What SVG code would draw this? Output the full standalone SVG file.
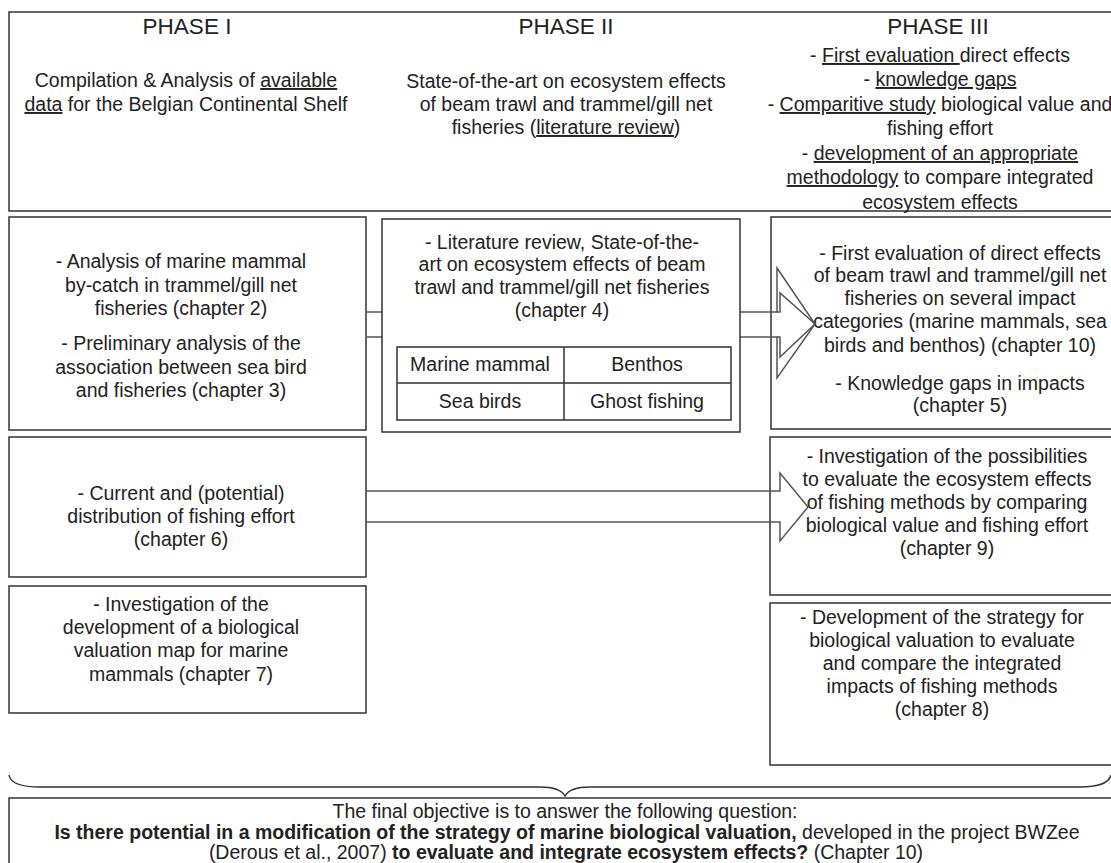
<svg xmlns="http://www.w3.org/2000/svg" width="1111" height="863" viewBox="0 0 1111 863">
<style>
.box{fill:#fff;stroke:#333;stroke-width:1.5}
.line{fill:none;stroke:#333;stroke-width:1.5}
.arrow{fill:none;stroke:#555;stroke-width:1.5;stroke-linejoin:miter}
text{font-family:"Liberation Sans",Arial,sans-serif;font-size:19.5px;fill:#222;text-anchor:middle}
.h{font-size:22.5px}
.u{text-decoration:underline}
.b{font-weight:bold}
</style>
<rect width="1111" height="863" fill="#fff"/>
<g id="phases">
<rect class="box" x="9" y="12" width="1120" height="199"/>
<text class="h" x="187" y="34">PHASE I</text>
<text class="h" x="566" y="34">PHASE II</text>
<text class="h" x="938" y="34">PHASE III</text>
<text x="186" y="87">Compilation &amp; Analysis of <tspan class="u">available</tspan></text>
<text x="186" y="111"><tspan class="u">data</tspan> for the Belgian Continental Shelf</text>
<text x="566" y="88">State-of-the-art on ecosystem effects</text>
<text x="566" y="111">of beam trawl and trammel/gill net</text>
<text x="566" y="134">fisheries (<tspan class="u">literature review</tspan>)</text>
<text x="940" y="62">- <tspan class="u">First evaluation </tspan>direct effects</text>
<text x="940" y="86">- <tspan class="u">knowledge gaps</tspan></text>
<text x="940" y="111">- <tspan class="u">Comparitive study</tspan> biological value and</text>
<text x="940" y="135">fishing effort</text>
<text x="940" y="160">- <tspan class="u">development of an appropriate</tspan></text>
<text x="940" y="184"><tspan class="u">methodology</tspan> to compare integrated</text>
<text x="940" y="209">ecosystem effects</text>
</g>
<g id="node-ch2-3">
<rect class="box" x="9" y="217" width="357" height="213"/>
<text x="181" y="268">- Analysis of marine mammal</text>
<text x="181" y="292">by-catch in trammel/gill net</text>
<text x="181" y="315">fisheries (chapter 2)</text>
<text x="181" y="350">- Preliminary analysis of the</text>
<text x="181" y="374">association between sea bird</text>
<text x="181" y="397">and fisheries (chapter 3)</text>
</g>
<g id="node-ch10-5">
<rect class="box" x="771" y="217" width="360" height="212"/>
<text x="960" y="260">- First evaluation of direct effects</text>
<text x="960" y="282">of beam trawl and trammel/gill net</text>
<text x="960" y="305">fisheries on several impact</text>
<text x="960" y="328">categories (marine mammals, sea</text>
<text x="960" y="352">birds and benthos) (chapter 10)</text>
<text x="960" y="390">- Knowledge gaps in impacts</text>
<text x="960" y="412">(chapter 5)</text>
</g>
<g id="node-ch6">
<rect class="box" x="9" y="437" width="357" height="140"/>
<text x="181" y="500">- Current and (potential)</text>
<text x="181" y="523">distribution of fishing effort</text>
<text x="181" y="546">(chapter 6)</text>
</g>
<g id="node-ch9">
<rect class="box" x="770" y="437" width="360" height="158"/>
<text x="947" y="463">- Investigation of the possibilities</text>
<text x="947" y="486">to evaluate the ecosystem effects</text>
<text x="947" y="509">of fishing methods by comparing</text>
<text x="947" y="532">biological value and fishing effort</text>
<text x="947" y="555">(chapter 9)</text>
</g>
<g id="node-ch7">
<rect class="box" x="9" y="586" width="357" height="127"/>
<text x="181" y="611">- Investigation of the</text>
<text x="181" y="634">development of a biological</text>
<text x="181" y="657">valuation map for marine</text>
<text x="181" y="681">mammals (chapter 7)</text>
</g>
<g id="node-ch8">
<rect class="box" x="770" y="603" width="360" height="162"/>
<text x="942" y="624">- Development of the strategy for</text>
<text x="942" y="647">biological valuation to evaluate</text>
<text x="942" y="670">and compare the integrated</text>
<text x="942" y="693">impacts of fishing methods</text>
<text x="942" y="716">(chapter 8)</text>
</g>
<g id="connectors">
<path class="arrow" d="M366,312 H777 V268 L815,324 L777,378 V337 H366"/>
<path class="arrow" d="M777,312 H780 V293 L815,324 L780,357 V337 H777"/>
<path class="arrow" d="M366,491 H780 V473 L808,507 L780,541 V522 H366"/>
<path class="line" d="M9,775 Q11,787 40,787 H540 Q560,787 565,796 Q570,787 590,787 H1080 Q1108,787 1111,775"/>
</g>
<g id="node-ch4">
<rect class="box" x="382" y="219" width="358" height="213"/>
<text x="562" y="249">-  Literature review, State-of-the-</text>
<text x="562" y="271">art on ecosystem effects of beam</text>
<text x="562" y="294">trawl and trammel/gill net fisheries</text>
<text x="562" y="317">(chapter 4)</text>
<rect class="box" x="397" y="347" width="334" height="73"/>
<path class="line" d="M564,347 V420 M397,383 H731"/>
<text x="480" y="371">Marine mammal</text>
<text x="647" y="371">Benthos</text>
<text x="480" y="408">Sea birds</text>
<text x="647" y="408">Ghost fishing</text>
</g>
<g id="node-final">
<rect class="box" x="9" y="798" width="1120" height="80"/>
<text x="565" y="818">The final objective is to answer the following question:</text>
<text x="567" y="839"><tspan class="b">Is there potential in a modification of the strategy of marine biological valuation,</tspan> developed in the project BWZee</text>
<text x="566" y="859">(Derous et al., 2007) <tspan class="b">to evaluate and integrate ecosystem effects?</tspan> (Chapter 10)</text>
</g>
</svg>
